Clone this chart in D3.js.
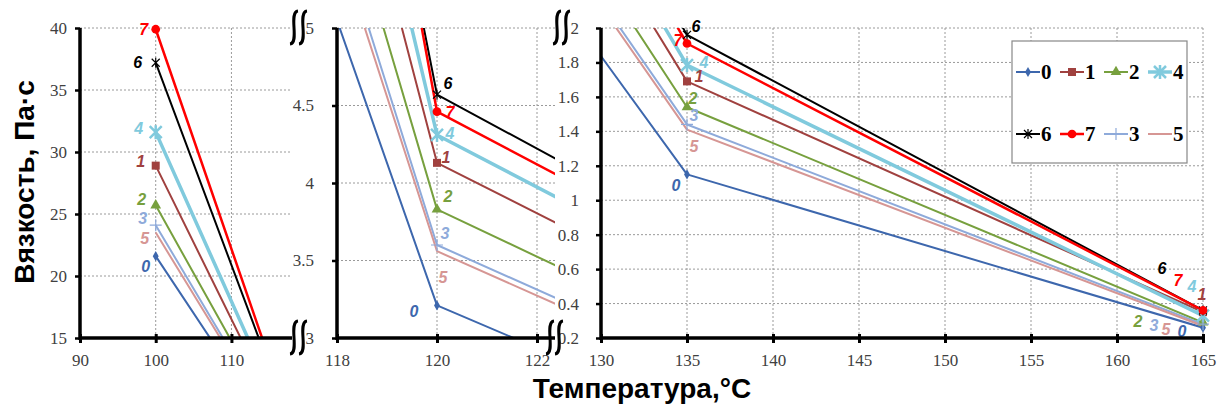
<!DOCTYPE html>
<html>
<head>
<meta charset="utf-8">
<title>Вязкость</title>
<style>
  body { margin: 0; background: #fff; }
  .grid line { stroke: #9a9a9a; stroke-width: 1; stroke-dasharray: 2,2; }
  .lbl { font-family: 'Liberation Sans', Arial, sans-serif; font-size: 16px; font-weight: bold; font-style: italic; }
  .title { font-family: 'Liberation Sans', Arial, sans-serif; font-size: 28px; font-weight: bold; fill: #000; }
  .legtext { font-family: 'Liberation Serif', 'Times New Roman', serif; font-size: 21px; font-weight: bold; fill: #000; }
</style>
</head>
<body>
<div id="chart"></div>
<script src="https://cdn.jsdelivr.net/npm/d3@7"></script>
<script>
// temperatures, °C
let temps = [100, 120, 135, 165];

// viscosity, Pa·s, one array per sample
let visc0 = [21.6, 3.21, 1.15, 0.26];
let visc1 = [28.9, 4.13, 1.69, 0.35];
let visc2 = [25.7, 3.83, 1.54, 0.29];
let visc3 = [24.1, 3.60, 1.44, 0.28];
let visc4 = [31.6, 4.31, 1.785, 0.33];
let visc5 = [23.5, 3.56, 1.41, 0.27];
let visc6 = [37.2, 4.57, 1.96, 0.36];
let visc7 = [39.9, 4.46, 1.91, 0.36];

let names = ['0', '1', '2', '4', '6', '7', '3', '5'];
let values = [visc0, visc1, visc2, visc4, visc6, visc7, visc3, visc5];

// axis ticks of the three broken panels
let xTicks1 = [90, 100, 110];
let xTicks2 = [118, 120, 122];
let xTicks3 = [130, 135, 140, 145, 150, 155, 160, 165];
let yTicks1 = [15, 20, 25, 30, 35, 40];
let yTicks2 = [3, 3.5, 4, 4.5, 5];
let yTicks3 = [0.2, 0.4, 0.6, 0.8, 1, 1.2, 1.4, 1.6, 1.8, 2];

// styles
let colors = {'0': '#3d67ad', '1': '#a0413f', '2': '#77a03e', '3': '#8eaada',
              '4': '#80cadd', '5': '#d69694', '6': '#000000', '7': '#ff0000'};
let widths = {'0': 2, '1': 2, '2': 2, '3': 2, '4': 3.5, '5': 2, '6': 2, '7': 2.5};
let markers = {'0': 'diamond', '1': 'square', '2': 'triangle', '3': 'plus',
               '4': 'star', '5': 'none', '6': 'asterisk', '7': 'circle'};

let svgWidth = 1219, svgHeight = 412;
let plotTop = 28, plotBottom = 338;
let tickFont = "'Liberation Serif', 'Times New Roman', serif";

let panels = [
  {xd: [90, 118], xr: [80, 292], yd: [15, 40], xt: xTicks1, yt: yTicks1, pad: 8, gridX: [100, 110]},
  {xd: [118, 122.36], xr: [337, 555], yd: [3, 5], xt: xTicks2, yt: yTicks2, pad: 18, gridX: [120, 122]},
  {xd: [130, 165], xr: [601, 1203], yd: [0.2, 2], xt: xTicks3, yt: yTicks3, pad: 17, gridX: [135, 140, 145, 150, 155, 160, 165]}
];

// label offsets [dx, dy] from the point, per temperature index
let labelOffsets = [
  {'7': [-12, 0], '6': [-18, -1], '4': [-17, -4], '1': [-15, -5], '2': [-14, -6], '3': [-13, -7], '5': [-11, 5], '0': [-10, 10]},
  {'6': [11, -12], '7': [13, 0], '4': [13, -2], '1': [9, -6], '2': [11, -13], '3': [8, -12], '5': [6, 26], '0': [-23, 6]},
  {'6': [9, -9], '7': [-9, -4], '4': [17, -3], '1': [12, -5], '2': [6, -9], '3': [7, -9], '5': [7, 16], '0': [-11, 11]},
  {'6': [-41, -42], '7': [-25, -30], '4': [-11, -30], '1': [-1, -18], '2': [-65, -2], '3': [-49, 1], '5': [-37, 3], '0': [-21, 3]}
];

let svg = d3.select('#chart').append('svg')
  .attr('width', svgWidth).attr('height', svgHeight);

let defs = svg.append('defs');

function drawMarker(g, name, x, y) {
  let type = markers[name], c = colors[name];
  let m = g.append('g').attr('transform', 'translate(' + x + ',' + y + ')');
  if (type === 'diamond') m.append('path').attr('d', d3.symbol(d3.symbolDiamond, 30)()).attr('fill', c);
  if (type === 'square') m.append('path').attr('d', d3.symbol(d3.symbolSquare, 64)()).attr('fill', c);
  if (type === 'triangle') m.append('path').attr('d', d3.symbol(d3.symbolTriangle, 50)()).attr('fill', c);
  if (type === 'circle') m.append('path').attr('d', d3.symbol(d3.symbolCircle, 60)()).attr('fill', c);
  if (type === 'plus') m.append('path').attr('d', 'M-6,0L6,0M0,-6L0,6').attr('stroke', c).attr('stroke-width', 1.2);
  if (type === 'star') m.append('path').attr('d', 'M-6,-6L6,6M-6,6L6,-6M0,-7L0,7').attr('stroke', c).attr('stroke-width', 2.5);
  if (type === 'asterisk') m.append('path').attr('d', 'M-4,-4L4,4M-4,4L4,-4M0,-5L0,5').attr('stroke', c).attr('stroke-width', 1.2);
}

panels.forEach(function(p, pi) {
  let x = d3.scaleLinear().domain(p.xd).range(p.xr);
  let y = d3.scaleLinear().domain(p.yd).range([plotBottom, plotTop]);
  let g = svg.append('g');

  // grid
  let grid = g.append('g').attr('class', 'grid');
  grid.selectAll('.gy').data(p.yt.slice(1)).enter().append('line')
    .attr('x1', p.xr[0]).attr('x2', p.xr[1])
    .attr('y1', d => y(d)).attr('y2', d => y(d));
  grid.selectAll('.gx').data(p.gridX).enter().append('line')
    .attr('x1', d => x(d)).attr('x2', d => x(d))
    .attr('y1', plotTop).attr('y2', plotBottom);

  // lines
  let clipId = 'clip' + pi;
  defs.append('clipPath').attr('id', clipId).append('rect')
    .attr('x', p.xr[0]).attr('y', plotTop).attr('width', p.xr[1] - p.xr[0]).attr('height', plotBottom - plotTop);
  let line = d3.line().x((d, i) => x(temps[i])).y(d => y(d));
  let lg = g.append('g').attr('clip-path', 'url(#' + clipId + ')');
  names.forEach(function(n, si) {
    lg.append('path').attr('d', line(values[si]))
      .attr('fill', 'none').attr('stroke', colors[n]).attr('stroke-width', widths[n])
      .attr('stroke-linejoin', 'round');
  });

  // markers and labels at points inside this panel
  temps.forEach(function(t, ti) {
    if (t < p.xd[0] || t > p.xd[1]) return;
    names.forEach(function(n, si) {
      drawMarker(g, n, x(t), y(values[si][ti]));
    });
    let offs = labelOffsets[ti];
    names.forEach(function(n, si) {
      g.append('text').attr('class', 'lbl')
        .attr('x', x(t) + offs[n][0]).attr('y', y(values[si][ti]) + offs[n][1] + 6)
        .attr('text-anchor', 'middle').attr('fill', colors[n]).text(n);
    });
  });

  // axes
  let xAxis = d3.axisBottom(x).tickValues(p.xt).tickSize(5).tickPadding(11)
    .tickFormat(d3.format('d'));
  let ax = g.append('g').attr('transform', 'translate(0,' + plotBottom + ')').call(xAxis);
  ax.select('.domain').remove();
  ax.selectAll('.tick line').attr('y1', -4).attr('stroke-width', 3);
  ax.selectAll('.tick text').attr('font-family', tickFont).attr('font-size', 17).attr('fill', '#404040');
  g.append('line').attr('x1', p.xr[0]).attr('x2', p.xr[1])
    .attr('y1', plotBottom).attr('y2', plotBottom).attr('stroke', '#000').attr('stroke-width', 3.5);

  let yAxis = d3.axisLeft(y).tickValues(p.yt).tickSize(5).tickPadding(p.pad)
    .tickFormat(d => String(+d.toFixed(1)));
  let ay = g.append('g').attr('transform', 'translate(' + p.xr[0] + ',0)').call(yAxis);
  ay.select('.domain').remove();
  ay.selectAll('.tick line').attr('stroke-width', 2.5);
  ay.selectAll('.tick text').attr('font-family', tickFont).attr('font-size', 17).attr('fill', '#404040');
  g.append('line').attr('x1', p.xr[0]).attr('x2', p.xr[0])
    .attr('y1', plotTop).attr('y2', plotBottom + 2).attr('stroke', '#000').attr('stroke-width', 3.5);
});

// axis-break squiggles
function squiggle(cx, y0) {
  [0, 9].forEach(function(dx) {
    let x0 = cx + dx;
    svg.append('path')
      .attr('d', 'M' + (x0 + 4) + ',' + y0 + ' C' + (x0 - 6) + ',' + (y0 + 1) + ' ' + (x0 + 6) + ',' + (y0 + 32) + ' ' + (x0 - 4) + ',' + (y0 + 33))
      .attr('fill', 'none').attr('stroke', '#000').attr('stroke-width', 3);
  });
}
squiggle(294, 11);
squiggle(294, 321);
squiggle(557, 11);
squiggle(550, 321);

// legend
let legend = svg.append('g');
legend.append('rect').attr('x', 1012).attr('y', 41).attr('width', 175).attr('height', 122)
  .attr('fill', '#fff').attr('stroke', '#888').attr('stroke-width', 1.2);
names.forEach(function(n, i) {
  let lx = 1016 + (i % 4) * 44;
  let ly = i < 4 ? 72 : 134;
  legend.append('line').attr('x1', lx).attr('x2', lx + 24).attr('y1', ly).attr('y2', ly)
    .attr('stroke', colors[n]).attr('stroke-width', widths[n]);
  drawMarker(legend, n, lx + 12, ly);
  legend.append('text').attr('class', 'legtext').attr('x', lx + 25).attr('y', ly + 7).text(n);
});

// titles
svg.append('text').attr('class', 'title')
  .attr('transform', 'translate(34,182) rotate(-90)')
  .attr('text-anchor', 'middle').text('Вязкость, Па·с');
svg.append('text').attr('class', 'title')
  .attr('x', 642).attr('y', 398)
  .attr('text-anchor', 'middle').text('Температура,°C');
</script>
</body>
</html>
